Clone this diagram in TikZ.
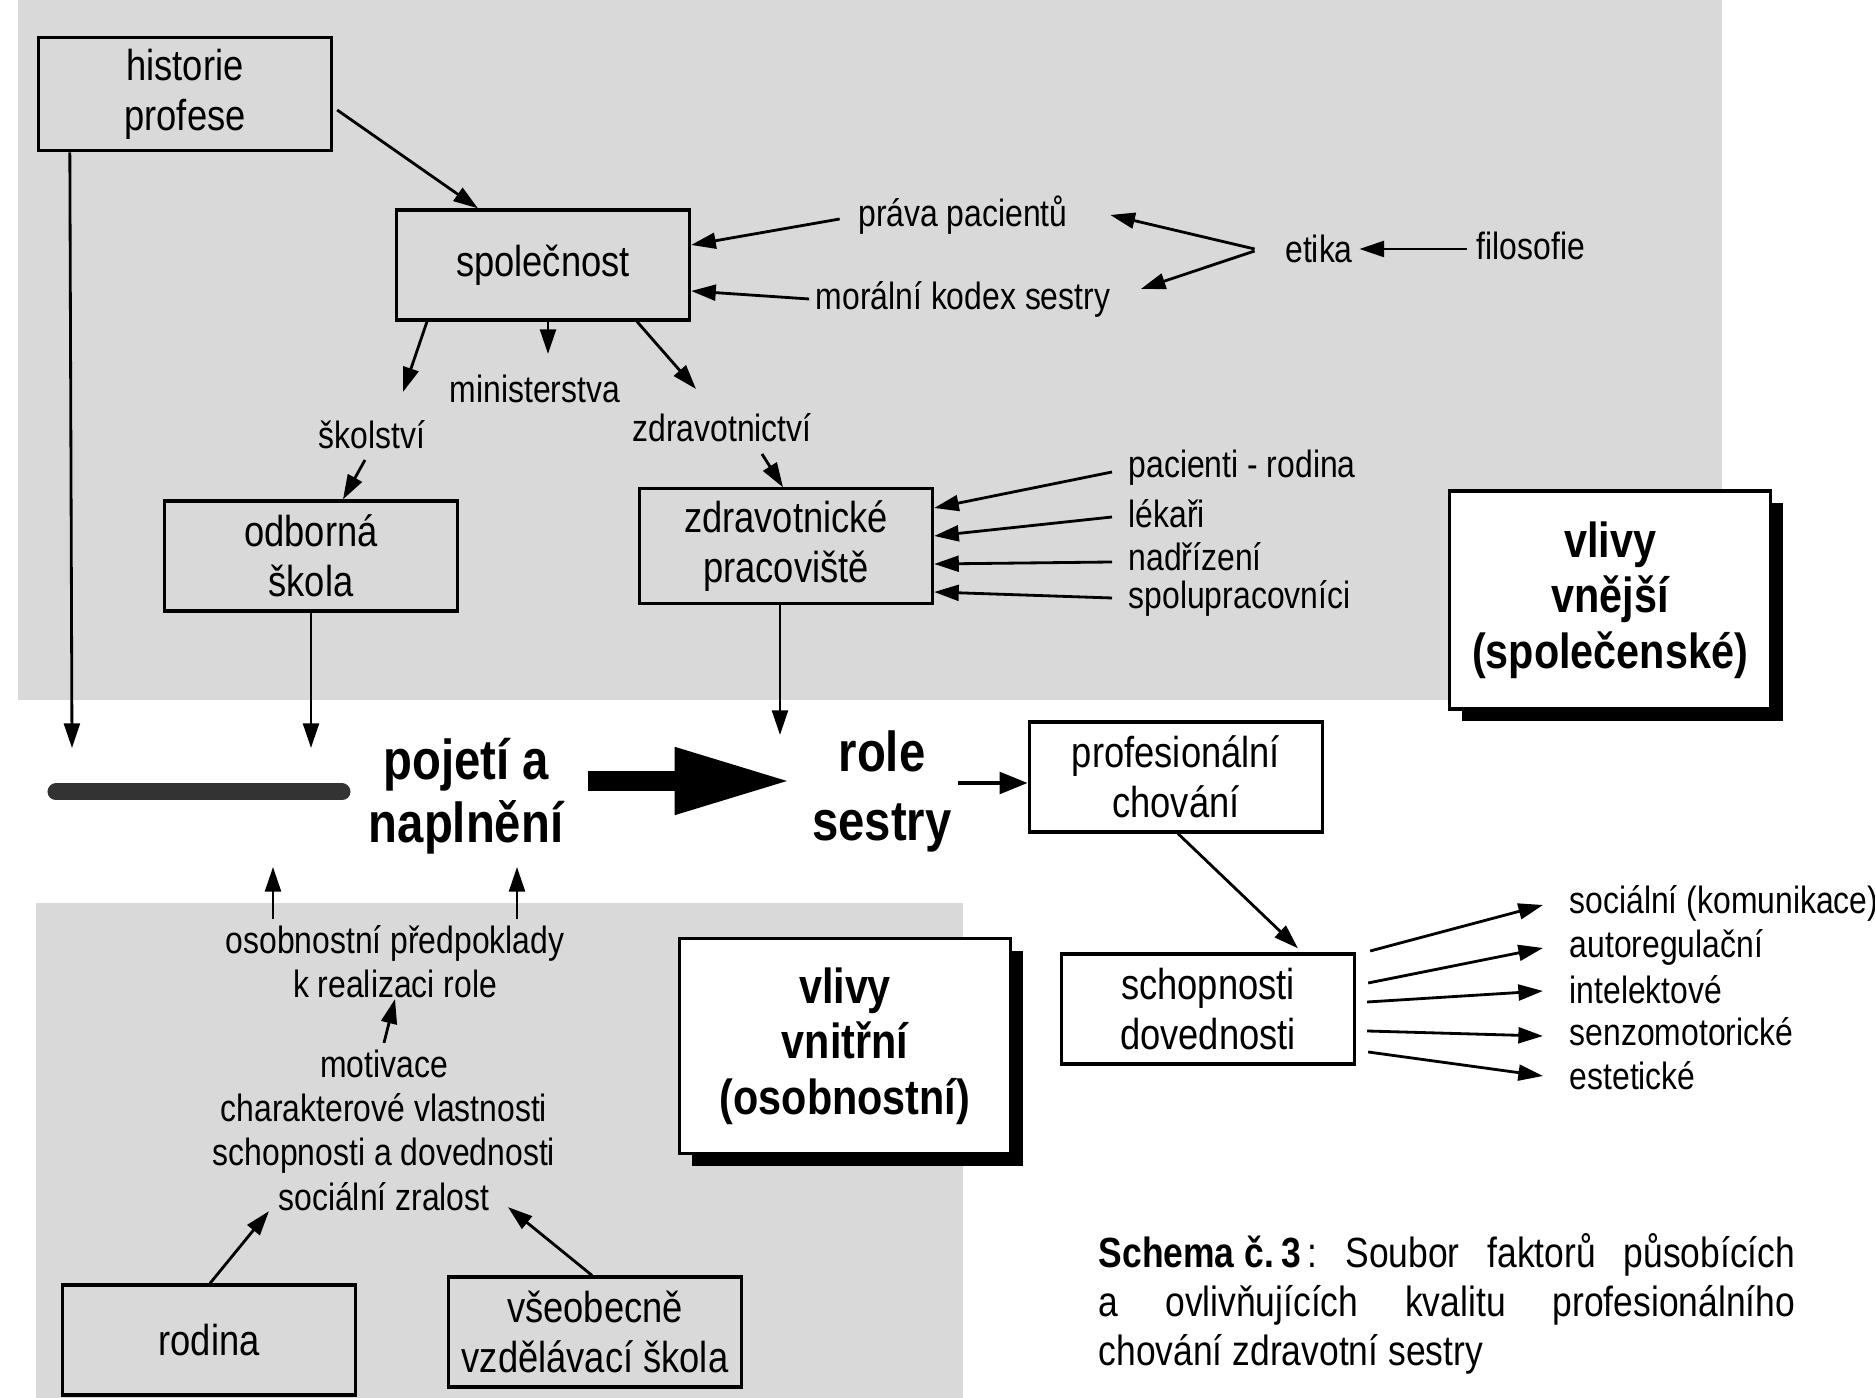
\documentclass[tikz,border=0pt]{standalone}
\usepackage{fontspec}
\setmainfont{Liberation Sans}[FakeStretch=0.84]
\usepackage{tikz}
\usetikzlibrary{arrows.meta,calc,shadows}
\definecolor{screen}{gray}{0.85}
\tikzset{
  box/.style={draw,line width=0.9pt,minimum width=2.93cm,minimum height=1.1cm,
    align=flush center,font=\fontsize{12.3}{14.2}\selectfont},
  note/.style={inner sep=0pt,align=flush center,font=\fontsize{10.8}{12.6}\selectfont},
  link/.style={line width=0.8pt,-{Triangle[length=7pt,width=4.5pt]}},
  panel/.style={draw,line width=1pt,fill=white,minimum width=3.21cm,minimum height=2.18cm,
    align=flush center,font=\fontsize{14}{15.8}\selectfont\bfseries,
    drop shadow={shadow xshift=3.5pt,shadow yshift=-3.5pt,fill=black,opacity=1}},
}
\begin{document}
\begin{tikzpicture}[x=0.01cm,y=-0.01cm]
\useasboundingbox (0,0) rectangle (1875,1398);
% screened areas
\fill[screen] (18,0) rectangle (1722,700);
\fill[screen] (36,903) rectangle (963,1398);

% outer (social) influences
\node[box] (hist) at (185,94) {historie\\profese};
\node[box] (spol) at (543,265) {společnost};
\node[box] (odb) at (311,556) {odborná\\škola};
\node[box] (zdrp) at (786,546) {zdravotnické\\pracoviště};
\node[note] (prava) at (963,215) {práva pacientů};
\node[note] (moral) at (963,299) {morální kodex sestry};
\node[note] (etika) at (1319,249) {etika};
\node[note] (filo) at (1531,246) {filosofie};
\node[note] (mini) at (535,389) {ministerstva};
\node[note] (skol) at (372,435) {školství};
\node[note] (zdrav) at (722,428) {zdravotnictví};
\node[note,anchor=west] (pac) at (1128,468) {pacienti - rodina};
\node[note,anchor=west] (lek) at (1128,514) {lékaři};
\node[note,anchor=west] (nad) at (1128,557) {nadřízení};
\node[note,anchor=west] (spolu) at (1128,598) {spolupracovníci};
\node[panel] (vnejsi) at (1610,600) {vlivy\\vnější\\(společenské)};

% centre line
\coordinate (inA) at (72,748);
\coordinate (inC) at (780,735);
\draw[line width=0.17cm,line cap=round,black!80] (56,792) -- (342,792);
\node[inner sep=0pt,align=flush center,font=\fontsize{16}{17.9}\selectfont\bfseries] (pojeti) at (466,796) {pojetí a\\naplnění};
\node[inner sep=0pt,align=flush center,font=\fontsize{16}{19.6}\selectfont\bfseries] (role) at (882,791) {role\\sestry};
\node[box,fill=white] (prof) at (1176,777) {profesionální\\chování};
\node[box,fill=white] (schop) at (1208,1009) {schopnosti\\dovednosti};
\node[note,anchor=west] (soc) at (1569,903) {sociální (komunikace)};
\node[note,anchor=west] (auto) at (1569,947) {autoregulační};
\node[note,anchor=west] (intel) at (1569,990) {intelektové};
\node[note,anchor=west] (senz) at (1569,1032) {senzomotorické};
\node[note,anchor=west] (est) at (1569,1076) {estetické};

% inner (personal) influences
\node[note] (osob) at (395,962) {osobnostní předpoklady\\k realizaci role};
\node[note] (motiv) at (384,1130) {motivace\\charakterové vlastnosti\\schopnosti a dovednosti\\sociální zralost};
\node[box] (rod) at (209,1340) {rodina};
\node[box] (vseob) at (595,1332) {všeobecně\\vzdělávací škola};
\node[panel,minimum width=3.31cm,minimum height=2.15cm] (vnitrni) at (845,1046) {vlivy\\vnitřní\\(osobnostní)};

\node[anchor=north west,inner sep=0pt,text width=6.96cm,align=flush left,
  font=\fontsize{12}{13.9}\selectfont] (capt) at (1098,1233)
  {\textbf{Schema č.\,3}\,:\hfill Soubor\hfill faktorů\hfill působících\\
   a\hfill ovlivňujících\hfill kvalitu\hfill profesionálního\\
   chování zdravotní sestry};

% arrows, top part
\draw[link] ($(hist.east)+(4,16)$) -- ($(spol.north)+(-65,0)$);
\draw[link] ($(hist.south west)+(33,0)$) -- (inA);
\draw[link] (odb.south) -- (odb.south |- inA);
\draw[link] ($(zdrp.south)+(-6,0)$) -- (inC);
\draw[link] ($(spol.south)+(-116,0)$) -- ($(skol)+(31,-43)$);
\draw[link] ($(spol.south)+(5,0)$) -- ($(mini)+(13,-35)$);
\draw[link] ($(spol.south)+(94,0)$) -- ($(zdrav)+(-26,-39)$);
\draw[link] ($(skol)+(-7,25)$) -- ($(odb.north)+(32,0)$);
\draw[link] ($(zdrav)+(40,26)$) -- ($(zdrp.north)+(-3,0)$);
\draw[link] ($(prava.west)+(-18,4)$) -- ($(spol.east)+(0,-20)$);
\draw[link] ($(moral.west)+(-6,0)$) -- ($(spol.east)+(0,26)$);
\draw[link] ($(etika.west)+(-30,0)$) -- ($(prava.east)+(42,0)$);
\draw[link] ($(etika.west)+(-30,2)$) -- ($(moral.east)+(30,-10)$);
\draw[link] ($(filo.west)+(-9,3)$) -- ($(etika.east)+(6,0)$);
\draw[link] ($(pac.west)+(-16,4)$) -- ($(zdrp.east)+(0,-38)$);
\draw[link] ($(lek.west)+(-16,3)$) -- ($(zdrp.east)+(0,-10)$);
\draw[link] ($(nad.west)+(-16,5)$) -- ($(zdrp.east)+(0,18)$);
\draw[link] ($(spolu.west)+(-16,0)$) -- ($(zdrp.east)+(0,46)$);

% main arrow and right part
\draw[line width=0.2cm,-{Triangle[length=1.17cm,width=0.62cm]}]
  ($(pojeti.east)+(24,-15)$) -- ($(role.west)+(-20,-10)$);
\draw[line width=1.4pt,-{Triangle[length=8pt,width=6pt]}]
  ($(role.east)+(6,-8)$) -- ($(prof.west)+(0,6)$);
\draw[link] ($(prof.south)+(2,0)$) -- ($(schop.north)+(90,-4)$);
\draw[link] ($(schop.east)+(14,-58)$) -- ($(soc.west)+(-26,2)$);
\draw[link] ($(schop.east)+(12,-26)$) -- ($(auto.west)+(-26,1)$);
\draw[link] ($(schop.east)+(11,-7)$) -- ($(intel.west)+(-26,1)$);
\draw[link] ($(schop.east)+(11,22)$) -- ($(senz.west)+(-26,4)$);
\draw[link] ($(schop.east)+(12,43)$) -- ($(est.west)+(-26,0)$);

% arrows, bottom part
\draw[link] ($(osob.north)+(-122,-6)$) -- ++(0,-52);
\draw[link] ($(osob.north)+(122,-6)$) -- ++(0,-52);
\draw[link] ($(motiv.north)+(0,-6)$) -- (osob.south);
\draw[link] ($(rod.north)+(1,0)$) -- ($(motiv.south)+(-115,0)$);
\draw[link] ($(vseob.north)+(-3,0)$) -- ($(motiv.south)+(124,-4)$);
\end{tikzpicture}
\end{document}
